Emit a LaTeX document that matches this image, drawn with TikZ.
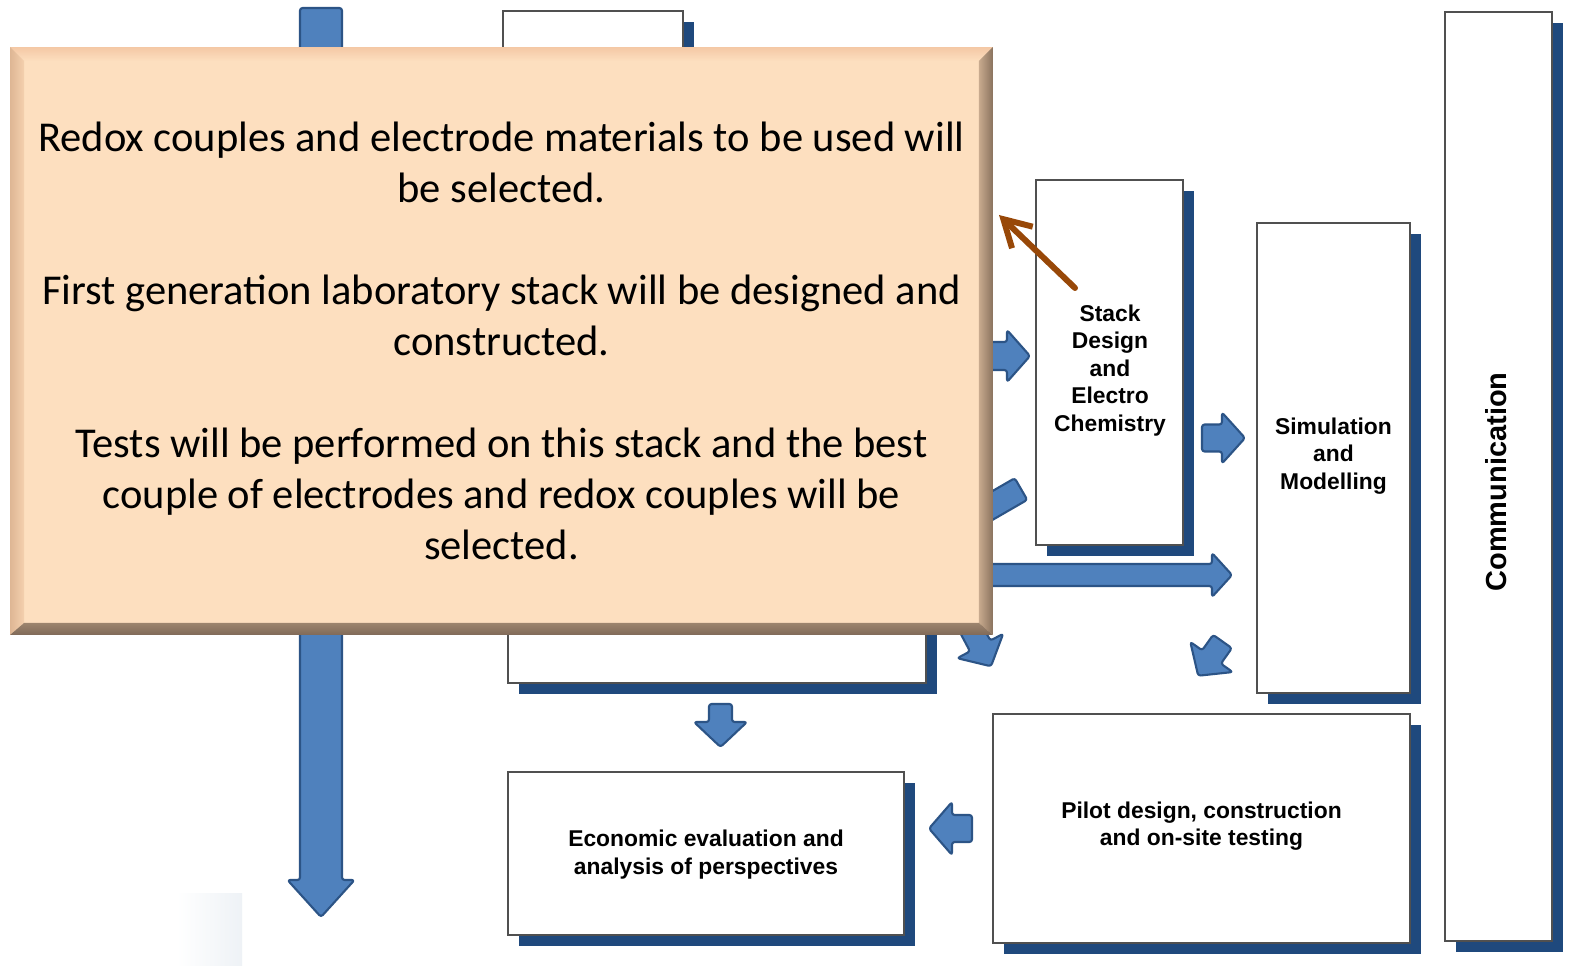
\documentclass[tikz,border=0pt]{standalone}
\usepackage{fontspec}
\setmainfont{Carlito}
\newfontfamily\boxfont{Liberation Sans}
\usetikzlibrary{shadows,calc,arrows.meta}

\definecolor{arrowblue}{RGB}{79,129,189}
\definecolor{arrowedge}{RGB}{44,84,134}
\definecolor{shadownavy}{RGB}{31,73,125}
\definecolor{boxedge}{RGB}{80,80,80}
\definecolor{peach}{RGB}{253,223,191}
\definecolor{peachrim}{RGB}{244,200,165}
\definecolor{peachlight}{RGB}{255,247,234}
\definecolor{bevelleftout}{RGB}{222,182,148}
\definecolor{bevelleftin}{RGB}{244,208,174}
\definecolor{bevelrightin}{RGB}{200,170,142}
\definecolor{bevelrightout}{RGB}{138,114,94}
\definecolor{bevelbottomin}{RGB}{156,132,110}
\definecolor{bevelbottomout}{RGB}{128,106,88}
\definecolor{hintbrown}{RGB}{152,72,8}
\definecolor{patchgray}{RGB}{238,242,246}

% block arrow: back point (#1,#2), direction #3 (deg), length #4,
% shaft width #5, head width #6, head length #7 (all in px units)
\newcommand\flowarrow[7]{%
  \path[barrow, shift={(#1,#2)}, rotate=#3]
    (0,{-#5/2}) -- ({#4-#7},{-#5/2}) -- ({#4-#7},{-#6/2}) -- (#4,0)
    -- ({#4-#7},{#6/2}) -- ({#4-#7},{#5/2}) -- (0,{#5/2}) -- cycle;}

\begin{document}
\begin{tikzpicture}[x=0.02cm,y=-0.02cm,
  box/.style={draw=boxedge, line width=1.1pt, fill=white, inner sep=0pt,
    outer sep=0pt,
    general shadow={fill=shadownavy, shadow xshift=0.22cm, shadow yshift=-0.22cm}},
  boxtext/.style={inner sep=0pt, align=center,
    font={\boxfont\bfseries\fontsize{13}{15.6}\selectfont}},
  barrow/.style={fill=arrowblue, draw=arrowedge, line width=1.2pt,
    rounded corners=1.5pt, line join=round},
  callout/.style={fill=peach, inner sep=0pt, outer sep=0pt, align=center,
    minimum width=19.66cm, minimum height=11.76cm,
    font={\fontsize{24.2}{29}\selectfont}},
  hint/.style={draw=hintbrown, line width=3.4pt, line cap=round,
    -{Straight Barb[length=15pt,width=17pt]}}]

\useasboundingbox (0,0) rectangle (1585,966);
\fill[white] (0,0) rectangle (1585,966);

% faint remnant at the lower left
\fill[left color=white, right color=patchgray] (177,893) rectangle (242,966);

% process boxes
\node[box, minimum width=3.6cm, minimum height=5.78cm] (topbox) at (593,155.5) {};
\node[box, minimum width=8.36cm, minimum height=5.26cm] (labbox) at (717,551.5) {};
\node[box, minimum width=2.94cm, minimum height=7.3cm] (stack) at (1109.5,362.5) {};
\node[box, minimum width=3.06cm, minimum height=9.4cm] (sim) at (1333.5,458) {};
\node[box, minimum width=8.34cm, minimum height=4.58cm] (pilot) at (1201.5,828.5) {};
\node[box, minimum width=7.92cm, minimum height=3.26cm] (econ) at (706,853.5) {};
\node[box, minimum width=2.14cm, minimum height=18.58cm] (comm) at (1498.5,476.5) {};

% box labels
\node[boxtext] (stacklabel) at (1110,370.5) {Stack\\Design\\and\\Electro\\Chemistry};
\node[boxtext] (simlabel) at (1333.5,456) {Simulation\\and\\Modelling};
\node[boxtext] (pilotlabel) at (1201.5,826) {Pilot design, construction\\and on-site testing};
\node[boxtext] (econlabel) at (706,854.5) {Economic evaluation and\\analysis of perspectives};
\node[rotate=90, inner sep=0pt, font={\boxfont\bfseries\fontsize{16.5}{19}\selectfont}]
  (commlabel) at (1496,482) {Communication};

% block arrows between the work packages
\flowarrow{321}{8}{-90}{909}{42}{67}{37}
\flowarrow{720.5}{704}{-90}{43}{23}{53}{25}
\flowarrow{972}{828.5}{180}{43}{27}{53}{23}
\flowarrow{950}{356}{0}{80}{28}{52}{23}
\flowarrow{1202}{438}{0}{43}{27}{51}{23}
\flowarrow{950}{575}{0}{282}{22}{44}{20}
\flowarrow{1021}{489}{210}{160}{25}{50}{25}
\flowarrow{960}{608}{-62}{66}{23}{52}{23}
\flowarrow{1222.5}{641.5}{234.6}{42}{23}{52}{23}

% bevelled text panel
\node[callout] (callout) at (501.5,341)
  {Redox couples and electrode materials to be used will\\
   be selected.\\[29pt]
   First generation laboratory stack will be designed and\\
   constructed.\\[29pt]
   Tests will be performed on this stack and the best\\
   couple of electrodes and redox couples will be\\
   selected.};
\shade[top color=peachrim, middle color=peachlight, bottom color=peach]
  (callout.north west) -- (callout.north east) -- ($(callout.north east)+(-14,14)$)
  -- ($(callout.north west)+(14,14)$) -- cycle;
\shade[left color=bevelleftout, right color=bevelleftin]
  (callout.north west) -- ($(callout.north west)+(14,14)$)
  -- ($(callout.south west)+(14,-12)$) -- (callout.south west) -- cycle;
\shade[left color=bevelrightin, right color=bevelrightout]
  (callout.north east) -- ($(callout.north east)+(-14,14)$)
  -- ($(callout.south east)+(-14,-12)$) -- (callout.south east) -- cycle;
\shade[top color=bevelbottomin, bottom color=bevelbottomout]
  (callout.south west) -- ($(callout.south west)+(14,-12)$)
  -- ($(callout.south east)+(-14,-12)$) -- (callout.south east) -- cycle;

% pointer from the stack box to the panel
\coordinate (hintstart) at (1075,288);
\coordinate (hinttip) at (999,215);
\draw[hint] (hintstart) -- (hinttip);

\end{tikzpicture}
\end{document}
